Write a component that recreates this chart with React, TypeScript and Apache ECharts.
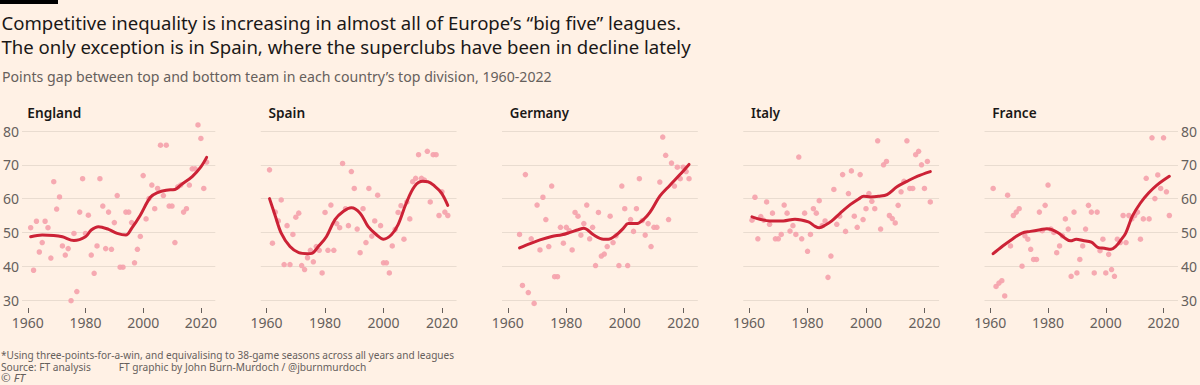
import React, { useEffect, useRef } from "react";
import * as echarts from "echarts";

const countries = ["England", "Spain", "Germany", "Italy", "France"];
const startYears = [1961, 1961, 1964, 1961, 1961];

const englandGap = [51.4, 38.8, 53.3, 44.2, 47, 53.3, 51.4, 42.4, 65, 56.9, 60.5, 46, 43.3, 45.2, 29.8, 49.7, 32.5, 56, 65.9, 49.7, 55.1, 43.3, 37.9, 46, 65.9, 57.8, 45.2, 56, 45, 52.9, 60.9, 39.7, 39.7, 56, 56, 52.9, 41, 45, 48.8, 66.8, 54, 60, 64, 57, 63, 75.8, 60.9, 75.8, 57.8, 57.8, 47, 63.5, 64, 56, 57, 64, 68.8, 68.8, 81.8, 77.8, 63, 70.8];
const spainGap = [68.5, 46.8, 56, 53.4, 59.6, 40.5, 52, 40.5, 49.4, 54.5, 55.7, 40.2, 39, 42.5, 44.7, 41.3, 45.8, 44.7, 38, 55.9, 44.7, 58.1, 44.7, 52.6, 51.4, 70.4, 57, 52, 68, 63, 51, 44, 57, 47, 63, 48.9, 53.4, 61, 52, 41, 41, 38, 46, 50.9, 55.9, 57.9, 48, 59, 54, 65, 66, 73, 66, 65.5, 74, 59, 73, 73, 55, 62, 56, 55];
const germanyGap = [49.4, 34.3, 67.1, 32.2, 48.1, 29, 58.1, 44.8, 60.4, 53.8, 45.8, 63.7, 36.9, 36.9, 51.5, 46.8, 51.5, 50.5, 44.8, 55.9, 54.8, 49.2, 52.6, 58.1, 48.1, 51.5, 40.2, 55.9, 43, 43.6, 45.8, 54.8, 47, 49, 40.2, 63.7, 57, 40.2, 53.8, 50.3, 57, 65.9, 53.5, 49.2, 52.6, 45.8, 51.5, 51.5, 64.9, 78.2, 72.8, 53.8, 70.5, 63.7, 69.3, 65.9, 69.3, 68, 65.9];
const italyGap = [53.6, 60.4, 48.1, 54.7, 53.6, 59, 52.4, 55.7, 48.1, 48.1, 49.4, 58.1, 55.7, 50.4, 52, 49.4, 72.3, 48.1, 55.7, 44.4, 49.4, 57, 55.7, 59.4, 52, 53.4, 36.7, 43, 62.7, 52.4, 54.8, 67.1, 50.3, 61.5, 68.2, 54.8, 51.5, 67.1, 53.8, 57, 61.5, 59.2, 57, 77.1, 51, 70, 71, 55, 54.1, 52.8, 58, 62, 65.1, 77.1, 63, 63, 73, 74, 70, 63, 71, 59];
const franceGap = [63, 34, 35, 35.7, 31.2, 61, 46, 55, 56, 57, 40, 49, 48, 45, 42, 42, 56, 50.5, 58, 64, 51, 50, 44, 46, 49, 54, 51, 37, 56, 38, 42, 46, 51, 58, 56, 38, 56, 44.6, 48, 38, 43.5, 39, 37, 48, 47, 55, 47, 55, 54, 55, 56, 48, 54, 66, 54, 78, 60, 67, 63, 78, 62, 55];
const gapValues = [englandGap, spainGap, germanyGap, italyGap, franceGap];

const englandTrendYears = [1961, 1965, 1969, 1972, 1976, 1980, 1982, 1984.5, 1988, 1991, 1994, 1996, 1999, 2002.5, 2005, 2008, 2011, 2013, 2017, 2020, 2022];
const englandTrend = [48.7, 49.2, 49.1, 48.7, 47.6, 48.7, 50.7, 51.7, 50.9, 49.7, 49.2, 51.2, 55.1, 60.4, 61.8, 62.5, 62.7, 64, 66.5, 69.4, 72.2];
const spainTrendYears = [1961, 1963, 1965, 1968, 1971, 1974, 1975.5, 1977.7, 1980.5, 1983.4, 1986.2, 1989, 1992, 1994.7, 1997.6, 2000, 2002.7, 2005, 2007.8, 2010.7, 2013.5, 2015.2, 2017.5, 2019.8, 2022];
const spainTrend = [60, 54.8, 49.8, 45.8, 44, 43.7, 43.8, 45.8, 48.8, 53.8, 56.2, 57.3, 55.7, 51.8, 49.3, 48, 49.3, 52.3, 58.7, 63.7, 65.1, 65, 63.7, 61.7, 58];
const germanyTrendYears = [1964, 1967.6, 1971, 1975, 1978.5, 1981.3, 1984.1, 1986, 1987.2, 1989.3, 1992.7, 1994.4, 1997.2, 1999.5, 2001.2, 2004, 2006.4, 2008.6, 2012, 2015.4, 2018.9, 2022];
const germanyTrend = [45.4, 46.7, 47.8, 48.8, 49.3, 50, 50.8, 51.2, 50.8, 49.3, 48, 48, 49.3, 51.2, 52.6, 52.6, 53.8, 55.9, 60.7, 63.9, 67.1, 70.1];
const italyTrendYears = [1961, 1963.7, 1967.1, 1971.7, 1975.7, 1980.3, 1982.6, 1984, 1986, 1988.3, 1991.2, 1994.6, 1997.5, 1999.2, 2001.5, 2004.3, 2007.2, 2010.6, 2014, 2017.5, 2022];
const italyTrend = [54.6, 53.9, 53.4, 53.4, 53.9, 53.1, 51.8, 51.4, 52.1, 53.4, 55.7, 58.2, 59.9, 60.7, 60.5, 60.7, 61.2, 63.5, 65.1, 66.6, 68];
const franceTrendYears = [1961, 1964.2, 1967.6, 1971, 1973.9, 1977.3, 1979.6, 1981.3, 1983.6, 1985.9, 1987.8, 1989.8, 1992.1, 1995, 1997.2, 1999.5, 2001.8, 2003.5, 2005.2, 2006.9, 2009.2, 2012, 2014.9, 2017.7, 2022];
const franceTrend = [43.7, 45.9, 48, 49.8, 50.3, 50.8, 51.1, 50.8, 49.8, 48.3, 47.5, 48, 47.6, 47.1, 45.6, 45.3, 45, 45.9, 47.7, 49.8, 54.8, 58.7, 61.7, 64, 66.6];
const trendYears = [englandTrendYears, spainTrendYears, germanyTrendYears, italyTrendYears, franceTrendYears];
const trendValues = [englandTrend, spainTrend, germanyTrend, italyTrend, franceTrend];

const xTicks = [1960, 1980, 2000, 2020];

const titleLines = [
  "Competitive inequality is increasing in almost all of Europe\u2019s \u201cbig five\u201d leagues.",
  "The only exception is in Spain, where the superclubs have been in decline lately",
];
const subtitle = "Points gap between top and bottom team in each country\u2019s top division, 1960-2022";
const footnote = "*Using three-points-for-a-win, and equivalising to 38-game seasons across all years and leagues";
const sourceText = "Source: FT analysis";
const creditText = "FT graphic by John Burn-Murdoch / @jburnmurdoch";
const copyrightText = "\u00a9 FT";

const FONT = "'Noto Sans', sans-serif";
const BG = "#FFF1E5";
const GREY = "#66605C";
const INK = "#1A1817";

let measureCtx: CanvasRenderingContext2D | null = null;
function measure(text: string, font: string): number {
  if (!measureCtx) measureCtx = document.createElement("canvas").getContext("2d");
  if (!measureCtx) return 1;
  measureCtx.font = font;
  return measureCtx.measureText(text).width || 1;
}

function fitText(text: string, x: number, y: number, size: number, weight: string, color: string, width: number, style: any = {}) {
  const font = `${style.fontStyle || "normal"} ${weight} ${size}px ${FONT}`;
  const w = measure(text, font);
  return {
    type: "text",
    x,
    y,
    scaleX: width / w,
    silent: true,
    style: {
      text,
      fontSize: size,
      fontWeight: weight,
      fontFamily: FONT,
      fill: color,
      align: "left",
      verticalAlign: "middle",
      ...style,
    },
  };
}

export default function App() {
  const ref = useRef<HTMLDivElement>(null);

  useEffect(() => {
    document.body.style.margin = "0";
    document.body.style.background = BG;
    if (!ref.current) return;
    const chart = echarts.init(ref.current, undefined, { renderer: "svg" });

    const panelStep = 241.25;
    const gridLeft0 = 19.5;
    const gridWidth = 195.8;

    const grids: any[] = [];
    const xAxes: any[] = [];
    const yAxes: any[] = [];
    const series: any[] = [];

    countries.forEach((c, i) => {
      grids.push({
        left: gridLeft0 + panelStep * i,
        width: gridWidth,
        top: 131,
        height: 169,
        containLabel: false,
      });
      xAxes.push({
        gridIndex: i,
        type: "value",
        min: 1958,
        max: 2025,
        offset: 8,
        axisLine: { show: false },
        axisTick: {
          show: true,
          length: 5,
          customValues: xTicks,
          lineStyle: { color: GREY, width: 1 },
        },
        axisLabel: {
          customValues: xTicks,
          formatter: (v: number) => String(v),
          color: GREY,
          fontSize: 14,
          fontFamily: FONT,
          margin: 7,
        },
        splitLine: { show: false },
      });
      yAxes.push({
        gridIndex: i,
        type: "value",
        min: 30,
        max: 80,
        interval: 10,
        position: i === 4 ? "right" : "left",
        axisLine: { show: false },
        axisTick: { show: false },
        axisLabel: {
          show: i === 0 || i === 4,
          color: GREY,
          fontSize: 14,
          fontFamily: FONT,
          margin: 3,
        },
        splitLine: { lineStyle: { color: "#E9DCD0", width: 1 } },
      });
      const pts = gapValues[i].map((v, k) => [startYears[i] + k, v]);
      series.push({
        type: "scatter",
        xAxisIndex: i,
        yAxisIndex: i,
        data: pts,
        symbolSize: 5.5,
        clip: false,
        itemStyle: { color: "#F5A3AC", opacity: 0.92 },
        z: 2,
      });
      series.push({
        type: "line",
        xAxisIndex: i,
        yAxisIndex: i,
        data: trendYears[i].map((y, k) => [y, trendValues[i][k]]),
        smooth: 0.35,
        showSymbol: false,
        clip: false,
        lineStyle: { color: "#CC2236", width: 3, cap: "round" },
        z: 3,
      });
    });

    const panelTitleWidths = [54, 36.7, 59.3, 29, 44.3];
    const graphic: any[] = [
      { type: "rect", shape: { x: 0, y: 0, width: 58, height: 4 }, style: { fill: "#000" }, silent: true },
      fitText(titleLines[0], 1.5, 22.5, 19, "normal", INK, 680),
      fitText(titleLines[1], 1.5, 47, 19, "normal", INK, 690),
      fitText(subtitle, 2, 76, 15, "normal", GREY, 550),
      fitText(footnote, 1, 355, 11, "normal", GREY, 454),
      fitText(sourceText, 1, 367, 11, "normal", GREY, 90),
      fitText(creditText, 118.7, 367, 11, "normal", GREY, 248),
      fitText(copyrightText, 1, 378, 11, "normal", GREY, 24, { fontStyle: "italic" }),
    ];
    countries.forEach((c, i) => {
      graphic.push(fitText(c, 27.3 + panelStep * i, 112, 14, "600", INK, panelTitleWidths[i]));
    });

    chart.setOption({
      animation: false,
      backgroundColor: BG,
      textStyle: { fontFamily: FONT },
      grid: grids,
      xAxis: xAxes,
      yAxis: yAxes,
      series,
      graphic,
    });

    return () => {
      chart.dispose();
    };
  }, []);

  return <div ref={ref} style={{ width: 1200, height: 385 }} />;
}
